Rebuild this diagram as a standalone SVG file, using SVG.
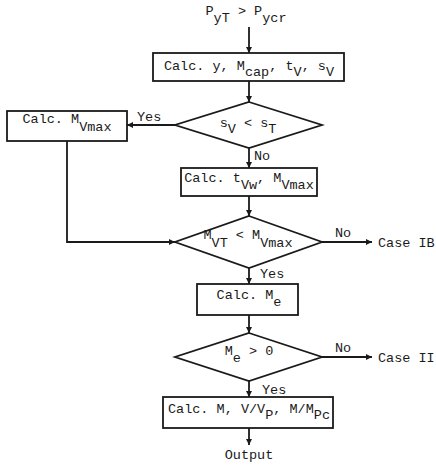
<svg xmlns="http://www.w3.org/2000/svg" width="436" height="468" viewBox="0 0 436 468">
<style>
.s{fill:none;stroke:#1a1a1a;stroke-width:1.8}
.b{fill:#fff;stroke:#1a1a1a;stroke-width:1.8}
text{font-family:"Liberation Mono","DejaVu Sans Mono",monospace;font-size:13.5px;fill:#1a1a1a}
.m{text-anchor:middle}
</style>
<defs>
<marker id="ah" viewBox="0 0 10 10" refX="10" refY="5" markerWidth="7" markerHeight="6" markerUnits="userSpaceOnUse" orient="auto">
<path d="M0,0 L10,5 L0,10 z" fill="#1a1a1a"/>
</marker>
</defs>
<rect width="436" height="468" fill="#fff"/>
<g id="connectors" class="s">
<line x1="249" y1="27" x2="249" y2="53" marker-end="url(#ah)"/>
<line x1="249" y1="81" x2="249" y2="102" marker-end="url(#ah)"/>
<line x1="175" y1="125" x2="127" y2="125" marker-end="url(#ah)"/>
<line x1="249" y1="148" x2="249" y2="168" marker-end="url(#ah)"/>
<line x1="249" y1="196" x2="249" y2="216" marker-end="url(#ah)"/>
<polyline points="67,141 67,242 175,242" marker-end="url(#ah)"/>
<line x1="322" y1="242" x2="372" y2="242" marker-end="url(#ah)"/>
<line x1="249" y1="268" x2="249" y2="284" marker-end="url(#ah)"/>
<line x1="249" y1="315" x2="249" y2="333" marker-end="url(#ah)"/>
<line x1="322" y1="357" x2="372" y2="357" marker-end="url(#ah)"/>
<line x1="249" y1="381" x2="249" y2="397" marker-end="url(#ah)"/>
<line x1="249" y1="428" x2="249" y2="445" marker-end="url(#ah)"/>
</g>
<g id="start"><text class="m" x="246" y="15">P<tspan dy="7">yT</tspan><tspan dy="-7"> &gt; P</tspan><tspan dy="7">ycr</tspan></text></g>
<g id="box1"><rect class="b" x="153" y="53" width="191" height="28"/>
<text class="m" x="249" y="70">Calc. y, M<tspan dy="6">cap</tspan><tspan dy="-6">, t</tspan><tspan dy="6">V</tspan><tspan dy="-6">, s</tspan><tspan dy="6">V</tspan></text></g>
<g id="dec1"><polygon class="b" points="249,102 322,125 249,148 175,125"/>
<text class="m" x="248" y="127">s<tspan dy="6">V</tspan><tspan dy="-6"> &lt; s</tspan><tspan dy="6">T</tspan></text></g>
<g id="box2"><rect class="b" x="7" y="111" width="120" height="30"/>
<text class="m" x="67" y="123">Calc. M<tspan dy="8">Vmax</tspan></text></g>
<g id="box3"><rect class="b" x="181" y="168" width="136" height="28"/>
<text class="m" x="249" y="182">Calc. t<tspan dy="7">Vw</tspan><tspan dy="-7">, M</tspan><tspan dy="7">Vmax</tspan></text></g>
<g id="dec2"><polygon class="b" points="249,216 322,242 249,268 175,242"/>
<text class="m" x="248" y="239">M<tspan dy="8">VT</tspan><tspan dy="-8"> &lt; M</tspan><tspan dy="8">Vmax</tspan></text></g>
<g id="box4"><rect class="b" x="197" y="284" width="101" height="31"/>
<text class="m" x="249" y="299">Calc. M<tspan dy="7">e</tspan></text></g>
<g id="dec3"><polygon class="b" points="249,333 322,357 249,381 175,357"/>
<text class="m" x="249" y="355">M<tspan dy="7">e</tspan><tspan dy="-7"> &gt; 0</tspan></text></g>
<g id="box5"><rect class="b" x="163" y="397" width="170" height="31"/>
<text class="m" x="249" y="413">Calc. M, V/V<tspan dy="6">P</tspan><tspan dy="-6">, M/M</tspan><tspan dy="6">Pc</tspan></text></g>
<g id="labels">
<text x="137" y="121">Yes</text>
<text x="254" y="160">No</text>
<text x="335" y="237">No</text>
<text x="378" y="247">Case IB</text>
<text x="260" y="278">Yes</text>
<text x="335" y="352">No</text>
<text x="378" y="362">Case II</text>
<text x="262" y="394">Yes</text>
<text class="m" x="249" y="459">Output</text>
</g>
</svg>
